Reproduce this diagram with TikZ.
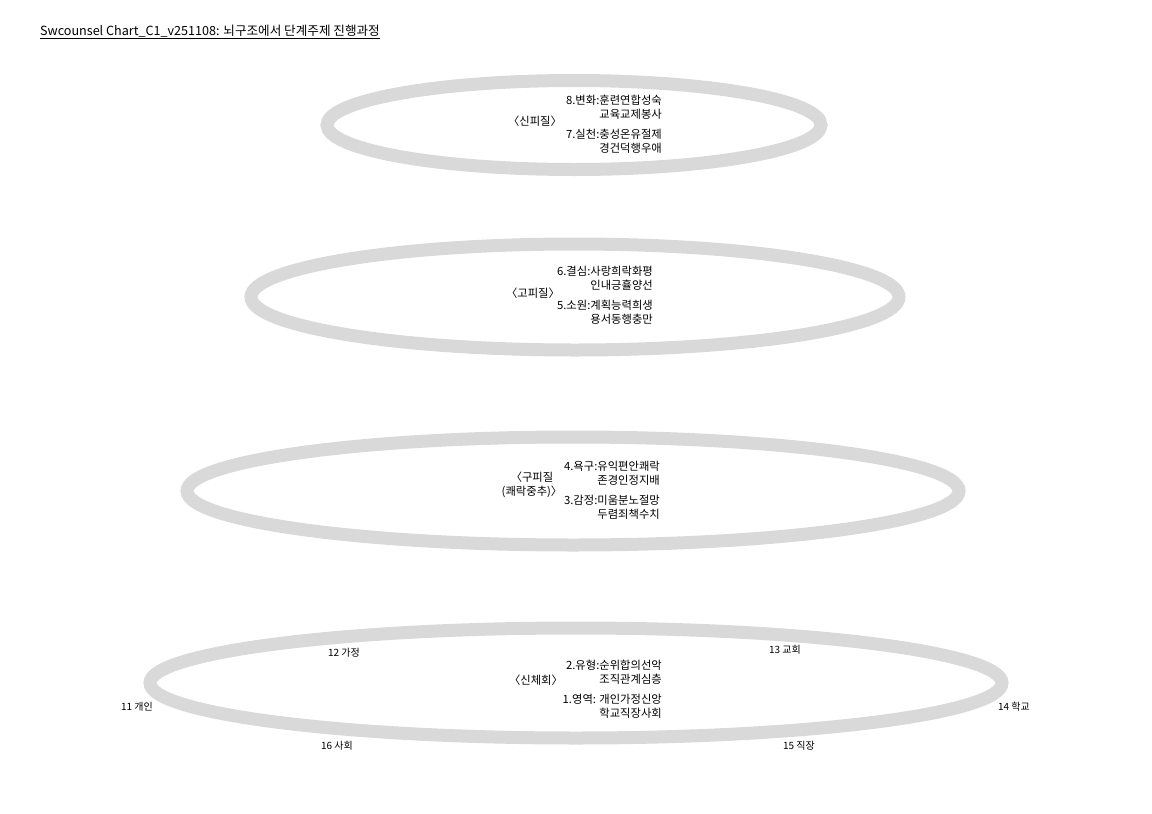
\documentclass[tikz,border=0pt]{standalone}
\usepackage{fontspec}
\setmainfont{Noto Sans CJK KR}
\usetikzlibrary{positioning}
\definecolor{ring}{RGB}{217,217,217}

\begin{document}
\begin{tikzpicture}[x=1pt, y=-1pt, font=\fontsize{11.3}{14}\selectfont,
    ringline/.style={draw=ring, line width=13pt},
    brain/.style={inner sep=0pt, align=center},
    theme/.style={inner sep=0pt, align=right, anchor=east},
    place/.style={inner sep=0pt, font=\fontsize{10}{11}\selectfont}]
    \useasboundingbox (0,0) rectangle (1152,814);

    % title
    \node[anchor=west, inner sep=0pt, font=\fontsize{12.6}{14}\selectfont] (title) at (40,32)
      {\underline{Swcounsel Chart\_C1\_v251108: 뇌구조에서 단계주제 진행과정}};

    % draw rings
    \foreach \cx/\cy/\rx/\ry in {574/125/247/44.5, 575/297/324/53, 573/491/386/54, 576/683/426/55}
      \draw[ringline] (\cx,\cy) ellipse [x radius=\rx, y radius=\ry];

    % ring 1
    \node[brain] (sinpi) at (535,121) {〈신피질〉};
    \node[theme] (sinpitext) at (662,124) {8.변화:훈련연합성숙\\ 교육교제봉사\\[6pt] 7.실천:충성온유절제\\ 경건덕행우애};

    % ring 2
    \node[brain] (gopi) at (533,293) {〈고피질〉};
    \node[theme] (gopitext) at (653,295) {6.결심:사랑희락화평\\ 인내긍휼양선\\[6pt] 5.소원:계획능력희생\\ 용서동행충만};

    % ring 3
    \node[brain] (gupi) at (532,485) {〈구피질\\ (쾌락중추)〉};
    \node[theme] (gupitext) at (660,490) {4.욕구:유익편안쾌락\\ 존경인정지배\\[6pt] 3.감정:미움분노절망\\ 두렴죄책수치};

    % ring 4
    \node[brain] (sinche) at (536,680) {〈신체회〉};
    \node[theme] (sinchetext) at (662,689) {2.유형:순위합의선악\\ 조직관계심층\\[6pt] 1.영역: 개인가정신앙\\ 학교직장사회};

    % places round ring 4
    \foreach \name/\x/\y/\txt in {p11/137/707/11 개인, p12/344/653/12 가정, p13/785/650/13 교회,
                                   p14/1014/707/14 학교, p15/799/746/15 직장, p16/337/746/16 사회}
      \node[place] (\name) at (\x,\y) {\txt};

\end{tikzpicture}
\end{document}
